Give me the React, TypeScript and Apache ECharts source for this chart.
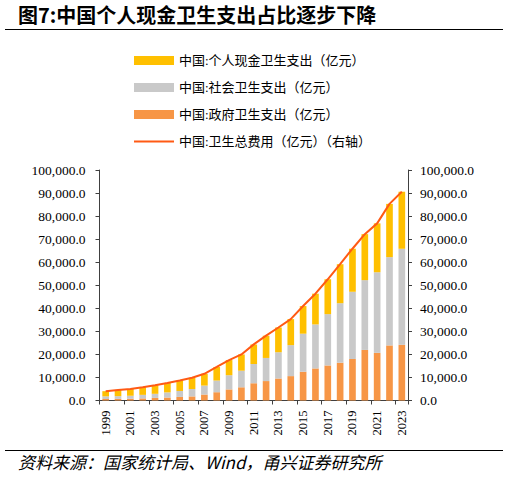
import React, { useEffect, useRef } from "react";
import * as echarts from "echarts";

const years = [
  "1999", "2000", "2001", "2002", "2003", "2004", "2005", "2006", "2007", "2008",
  "2009", "2010", "2011", "2012", "2013", "2014", "2015", "2016", "2017", "2018",
  "2019", "2020", "2021", "2022", "2023",
];
const personal = [
  2261, 2705, 3014, 3342, 3679, 4071, 4521, 4854, 5099, 5876,
  6571, 7051, 8465, 9656, 10729, 11295, 11993, 13338, 15134, 16912,
  18674, 19959, 21206, 23100, 24750,
];
const social = [
  1146, 1172, 1211, 1539, 1789, 2225, 2586, 3211, 3894, 5066,
  6154, 7197, 8416, 10031, 11394, 13438, 16507, 19097, 22259, 25811,
  29151, 30274, 34963, 38300, 41680,
];
const government = [
  641, 710, 801, 909, 1117, 1294, 1553, 1779, 2582, 3594,
  4816, 5732, 7464, 8432, 9546, 10579, 12475, 13910, 15206, 16399,
  18017, 21942, 20676, 23900, 24150,
];
const total = [
  4048, 4587, 5026, 5790, 6584, 7590, 8660, 9843, 11574, 14535,
  17542, 19980, 24346, 28119, 31669, 35312, 40975, 46345, 52598, 59122,
  65841, 72175, 76845, 85300, 90576,
];
const yTicks = [0, 10000, 20000, 30000, 40000, 50000, 60000, 70000, 80000, 90000, 100000];

const names = {
  personal: "中国:个人现金卫生支出（亿元）",
  social: "中国:社会卫生支出（亿元）",
  government: "中国:政府卫生支出（亿元）",
  total: "中国:卫生总费用（亿元）（右轴）",
};

const serif = '"Liberation Serif", "Times New Roman", "Noto Sans CJK SC", serif';
const fmt = (v: number) =>
  v.toLocaleString("en-US", { minimumFractionDigits: 1, maximumFractionDigits: 1 });

export default function App() {
  const ref = useRef<HTMLDivElement>(null);
  useEffect(() => {
    if (!ref.current) return;
    const chart = echarts.init(ref.current, null, { renderer: "svg" });
    const axisColor = "#404040";
    const yAxisCommon = {
      type: "value" as const,
      min: yTicks[0],
      max: yTicks[yTicks.length - 1],
      interval: yTicks[1] - yTicks[0],
      splitLine: { show: false },
      axisLine: { show: true, lineStyle: { color: axisColor, width: 1 } },
      axisTick: { show: true, length: 4, lineStyle: { color: axisColor } },
    };
    chart.setOption({
      animation: false,
      backgroundColor: "#ffffff",
      graphic: [
        {
          type: "text",
          left: 18,
          top: 4,
          style: {
            text: "图7:中国个人现金卫生支出占比逐步下降",
            font: 'bold 20px "Noto Sans CJK SC", sans-serif',
            fill: "#000",
          },
        },
        {
          type: "line",
          shape: { x1: 5, y1: 29.5, x2: 503, y2: 29.5 },
          style: { stroke: "#000", lineWidth: 1 },
        },
        {
          type: "line",
          shape: { x1: 5, y1: 450.5, x2: 503, y2: 450.5 },
          style: { stroke: "#000", lineWidth: 1 },
        },
        {
          type: "text",
          left: 18,
          top: 453,
          style: {
            text: "资料来源：国家统计局、Wind，甬兴证券研究所",
            font: 'italic 17px "Noto Sans CJK SC", sans-serif',
            fill: "#000",
          },
        },
      ],
      legend: {
        orient: "vertical",
        left: 128,
        top: 49,
        itemWidth: 40,
        itemHeight: 9,
        itemGap: 14,
        textStyle: { fontFamily: serif, fontSize: 13, color: "#000", lineHeight: 13 },
        data: [
          { name: names.personal, icon: "rect" },
          { name: names.social, icon: "rect" },
          { name: names.government, icon: "rect" },
          { name: names.total, itemStyle: { opacity: 0 } },
        ],
      },
      grid: { left: 99.5, right: 101, top: 170, bottom: 76.5, containLabel: false },
      xAxis: {
        type: "category",
        data: years,
        boundaryGap: true,
        axisLine: { lineStyle: { color: axisColor, width: 1 } },
        axisTick: { show: true, interval: 1, length: 4, lineStyle: { color: axisColor } },
        axisLabel: {
          interval: 1,
          rotate: 90,
          margin: 10,
          fontFamily: serif,
          fontSize: 12.5,
          color: "#000",
        },
      },
      yAxis: [
        {
          ...yAxisCommon,
          position: "left",
          axisLabel: { margin: 14, fontFamily: serif, fontSize: 13.5, color: "#000", formatter: fmt },
        },
        {
          ...yAxisCommon,
          position: "right",
          axisLabel: { margin: 12, fontFamily: serif, fontSize: 13.5, color: "#000", formatter: fmt },
        },
      ],
      series: [
        {
          name: names.government,
          type: "bar",
          stack: "s",
          data: government,
          barCategoryGap: "46%",
          itemStyle: { color: "#F79646" },
        },
        {
          name: names.social,
          type: "bar",
          stack: "s",
          data: social,
          itemStyle: { color: "#C9C9C9" },
        },
        {
          name: names.personal,
          type: "bar",
          stack: "s",
          data: personal,
          itemStyle: { color: "#FFC000" },
        },
        {
          name: names.total,
          type: "line",
          yAxisIndex: 1,
          data: total,
          symbol: "none",
          lineStyle: { color: "#FF5A14", width: 2 },
          itemStyle: { color: "#FF5A14" },
        },
      ],
    });
    return () => chart.dispose();
  }, []);
  return (
    <div
      ref={ref}
      style={{ position: "fixed", left: 0, top: 0, width: 509, height: 477, background: "#fff" }}
    />
  );
}
